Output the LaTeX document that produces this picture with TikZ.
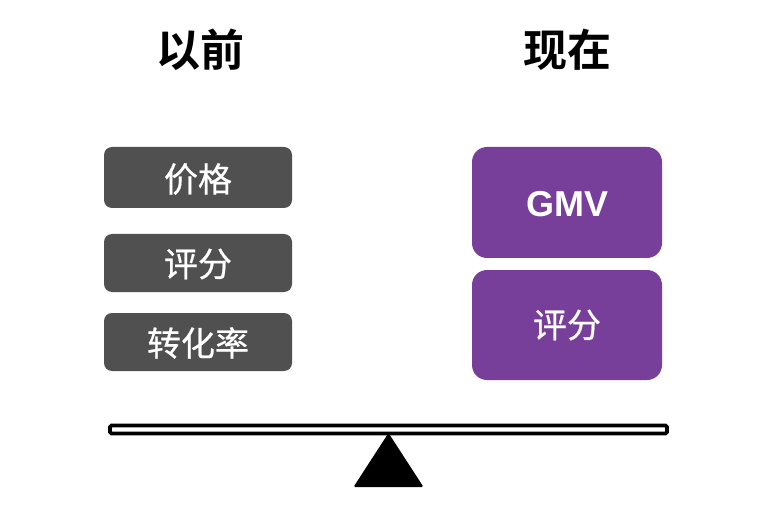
\documentclass[tikz,border=0pt]{standalone}
\usepackage{fontspec}
\newfontfamily\cjk{Noto Sans CJK SC}[FakeBold=0.6]
\newfontfamily\cjkb{Noto Sans CJK SC Bold}
\newfontfamily\arialb{Liberation Sans Bold}
\definecolor{boxgrey}{HTML}{505050}
\definecolor{boxpurple}{HTML}{773E9A}
\tikzset{
  greybox/.style={fill=boxgrey, rounded corners=8pt},
  purplebox/.style={fill=boxpurple, rounded corners=15pt},
  boxtext/.style={text=white, font=\cjk\fontsize{34}{34}\selectfont},
  title/.style={font=\cjkb\fontsize{44}{44}\selectfont, text=black},
}
\begin{document}
\begin{tikzpicture}[x=1pt,y=1pt]
\useasboundingbox (0,0) rectangle (776,512);
% titles
\node[title] (t1) at (200,462) {以前};
\node[title] (t2) at (567,462) {现在};
% left boxes
\fill[greybox] (104,304) rectangle (292,365);
\node[boxtext] (b1) at (198,333) {价格};
\fill[greybox] (104,220) rectangle (292,278);
\node[boxtext] (b2) at (198,248) {评分};
\fill[greybox] (104,141) rectangle (292,199);
\node[boxtext] (b3) at (198,169) {转化率};
% right boxes
\fill[purplebox] (472,254) rectangle (662,365);
\node[text=white, font=\arialb\fontsize{36}{36}\selectfont] (r1) at (567,308) {GMV};
\fill[purplebox] (472,132) rectangle (662,242);
\node[boxtext] (r2) at (567,187) {评分};
% beam
\draw[line width=3.8pt, rounded corners=1.5pt] (110,86.5) rectangle (667,78.5);
% fulcrum
\fill[black, rounded corners=1.5pt] (388.5,79) -- (423.5,25) -- (353.5,25) -- cycle;
\end{tikzpicture}
\end{document}
